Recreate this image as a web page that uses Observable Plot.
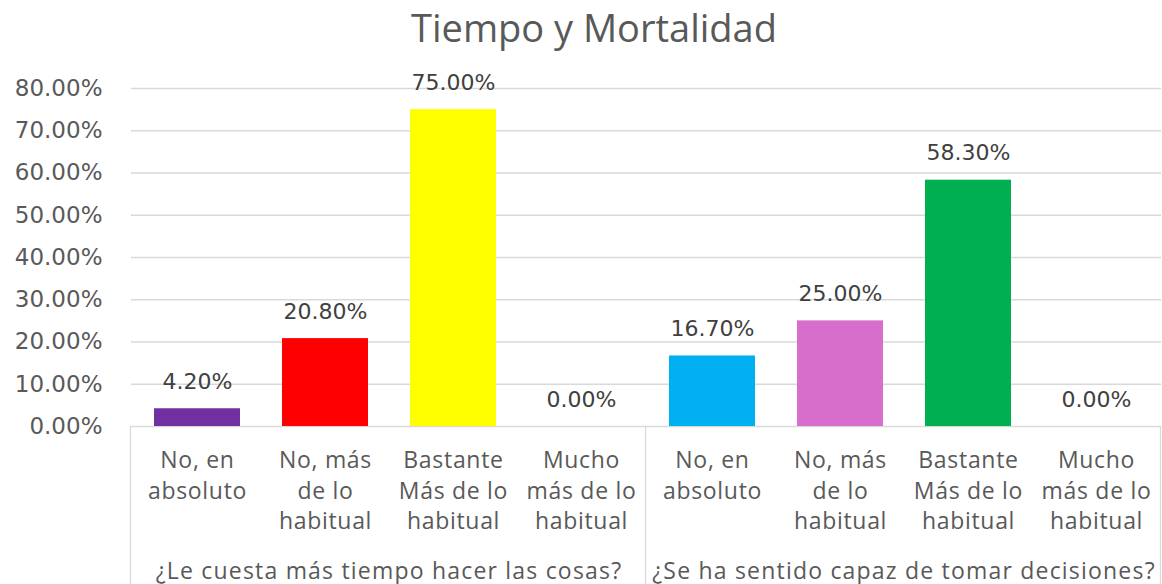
<!DOCTYPE html>
<html><head><meta charset="utf-8">
<script src="https://cdn.jsdelivr.net/npm/d3@7"></script>
<script src="https://cdn.jsdelivr.net/npm/@observablehq/plot@0.6"></script>
<style>
body{margin:0;background:#fff;width:1162px;height:584px;overflow:hidden;}
#title{height:60px;line-height:54px;text-align:center;font-family:"Open Sans",sans-serif;font-size:38px;color:#595959;padding-left:26px;box-sizing:border-box;white-space:nowrap;}
#chart svg{display:block;}
</style></head><body>
<div id="title">Tiempo y Mortalidad</div>
<div id="chart"></div>
<script>
const groups = ["¿Le cuesta más tiempo hacer las cosas?", "¿Se ha sentido capaz de tomar decisiones?"];
const categories = ["No, en absoluto", "No, más de lo habitual", "Bastante Más de lo habitual", "Mucho más de lo habitual"];
const categoryLabels = ["No, en\nabsoluto", "No, más\nde lo\nhabitual", "Bastante\nMás de lo\nhabitual", "Mucho\nmás de lo\nhabitual"];
const valuesTiempo = [4.2, 20.8, 75.0, 0.0];
const valuesDecisiones = [16.7, 25.0, 58.3, 0.0];
const colorsTiempo = ["#7030A0", "#FF0000", "#FFFF00", "#FFC000"];
const colorsDecisiones = ["#00B0F0", "#D86ECC", "#00B050", "#4472C4"];
const yTicks = [0, 10, 20, 30, 40, 50, 60, 70, 80];

const data = [];
categories.forEach((c, i) => data.push({group: groups[0], category: c, value: valuesTiempo[i], color: colorsTiempo[i]}));
categories.forEach((c, i) => data.push({group: groups[1], category: c, value: valuesDecisiones[i], color: colorsDecisiones[i]}));
const labelOf = new Map(categories.map((c, i) => [c, categoryLabels[i]]));
const pct = d => d.toFixed(2) + "%";

const plot = Plot.plot({
  width: 1162, height: 524,
  marginTop: 28, marginBottom: 158, marginLeft: 130, marginRight: 1,
  style: {fontFamily: "Open Sans, sans-serif", color: "#595959", background: "white", overflow: "visible"},
  fx: {domain: groups, padding: 0, label: null},
  x: {domain: categories, paddingInner: 0.33, paddingOuter: 0.165, label: null},
  y: {domain: [0, 80], label: null},
  color: {type: "identity"},
  marks: [
    Plot.gridY(yTicks, {stroke: "#d9d9d9", strokeOpacity: 1, strokeWidth: 1.3}),
    Plot.axisY(yTicks, {tickSize: 0, tickPadding: 29, tickFormat: pct, fontSize: 23, fontFamily: "DejaVu Sans, sans-serif", fill: "#595959", label: null}),
    Plot.axisX({tickSize: 0, tickPadding: 20, tickFormat: d => labelOf.get(d), fontSize: 23, lineHeight: 1.33, fill: "#595959", label: null}),
    Plot.axisFx({anchor: "bottom", tickSize: 0, tickPadding: 136, fontSize: 23, fill: "#595959", label: null}),
    Plot.barY(data, {fx: "group", x: "category", y: "value", fill: "color"}),
    Plot.text(data, {fx: "group", x: "category", y: "value", text: d => pct(d.value), lineAnchor: "bottom", dy: -20, fontSize: 22, fill: "#404040", fontFamily: "DejaVu Sans, sans-serif"})
  ]
});
document.getElementById("chart").appendChild(plot);

const svg = d3.select(plot);
const flatCats = categoryLabels.map(s => s.replace(/\n/g, ""));
svg.selectAll("text").each(function() {
  const t = this.textContent;
  const el = d3.select(this);
  if (groups.includes(t)) el.style("letter-spacing", "1.2px");
  else if (flatCats.includes(t)) el.style("letter-spacing", "0.7px");
});

// group separators derived from the facet scale
const fx = plot.scale("fx"), y = plot.scale("y");
const bw = fx.bandwidth != null ? fx.bandwidth : (fx.range[1] - fx.range[0]) / fx.domain.length;
const edges = groups.map(g => fx.apply(g));
edges.push(fx.apply(groups[groups.length - 1]) + bw);
const y0 = y.apply(0);
const sep = svg.append("g").attr("stroke", "#d9d9d9").attr("stroke-width", 1.3);
edges.forEach(x => sep.append("line").attr("x1", Math.round(x) - 0.5).attr("x2", Math.round(x) - 0.5).attr("y1", y0).attr("y2", 524));
</script>
</body></html>
